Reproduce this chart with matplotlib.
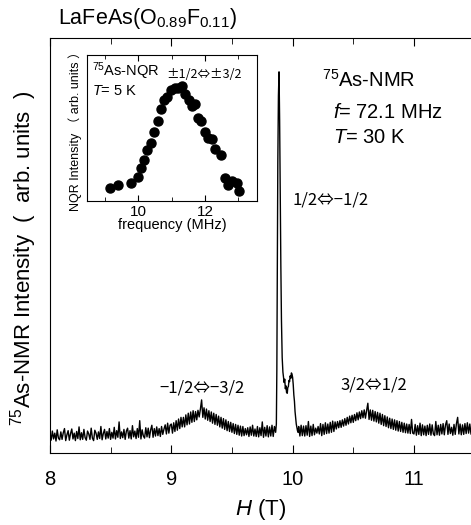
import numpy as np
import matplotlib
matplotlib.use("Agg")
import matplotlib.pyplot as plt
from matplotlib.ticker import MultipleLocator

plt.rcParams["font.family"] = ["Liberation Sans", "Noto Sans CJK JP", "DejaVu Sans"]
plt.rcParams["mathtext.fontset"] = "custom"
plt.rcParams["mathtext.rm"] = "Liberation Sans"
plt.rcParams["mathtext.it"] = "Liberation Sans:italic"

# ---- 75As-NMR field-swept spectrum (arb. units) ----
field_low = np.round(np.arange(8.00, 9.855, 0.01), 2)
nmr_low = [
    4.9, 3.1, 5.3, 3.4, 4.8, 2.9, 5.6, 3.6, 3.2, 5.1,
    3.3, 4.9, 5.9, 3.0, 4.4, 5.4, 3.1, 4.7, 5.8, 3.4,
    4.8, 3.0, 5.2, 3.5, 6.3, 3.2, 4.9, 3.3, 5.7, 3.7,
    3.1, 5.3, 4.6, 3.3, 6.0, 3.6, 3.0, 5.5, 4.8, 3.3,
    5.1, 3.5, 6.4, 3.2, 4.7, 5.7, 3.4, 5.2, 3.6, 5.9,
    3.3, 5.0, 3.6, 6.2, 3.4, 5.4, 3.8, 7.5, 3.5, 5.1,
    3.7, 5.7, 3.3, 5.3, 6.0, 3.6, 5.4, 3.4, 6.6, 3.9,
    5.3, 3.5, 5.9, 3.8, 7.8, 3.4, 5.6, 4.1, 3.6, 6.1,
    3.9, 6.0, 3.7, 5.6, 6.7, 3.8, 5.9, 4.1, 6.3, 4.2,
    5.9, 4.0, 6.4, 4.5, 5.8, 6.8, 4.6, 7.2, 4.8, 6.7,
    7.0, 4.8, 7.3, 5.2, 7.8, 5.5, 8.2, 5.9, 8.6, 6.3,
    8.6, 6.3, 9.2, 6.8, 9.6, 7.0, 9.9, 7.4, 10.2, 7.6,
    10.0, 8.0, 10.3, 8.7, 10.6, 12.8, 8.6, 10.9, 8.2, 10.6,
    7.9, 10.2, 7.6, 9.9, 7.2, 9.6, 6.9, 9.3, 6.7, 8.9,
    6.3, 8.6, 6.0, 8.3, 5.7, 8.0, 5.4, 7.6, 5.2, 7.4,
    5.0, 7.1, 4.7, 6.9, 4.5, 6.7, 4.3, 6.5, 4.1, 6.4,
    4.2, 5.9, 4.4, 6.1, 4.0, 6.3, 4.3, 6.7, 4.1, 5.8,
    4.0, 6.4, 3.9, 6.1, 4.2, 7.5, 3.8, 6.2, 4.1, 6.6,
    3.9, 6.3, 4.1, 6.7, 4.0, 6.4,
]

field_mid = [9.860, 9.866, 9.870, 9.874, 9.878, 9.883, 9.888, 9.893, 9.898,
             9.903, 9.908, 9.914, 9.920, 9.924, 9.930, 9.935, 9.940, 9.945,
             9.950, 9.956, 9.960, 9.965, 9.970, 9.975, 9.980, 9.985, 9.990,
             9.995, 10.000, 10.005, 10.010, 10.015, 10.020, 10.025, 10.030,
             10.035, 10.040, 10.045]
nmr_mid = [5.0, 7.0, 20.0, 45.0, 70.0, 86.0, 91.8, 80.0, 62.0,
           45.0, 32.0, 23.0, 19.5, 18.4, 17.0, 17.8, 15.5, 16.2,
           14.6, 14.4, 15.8, 16.0, 17.5, 17.2, 18.6, 18.0, 19.3,
           19.0, 18.2, 16.5, 14.0, 12.5, 10.0, 8.5, 7.0,
           6.2, 5.4, 5.0]

field_high = np.round(np.arange(10.05, 11.475, 0.01), 2)
nmr_high = [
    6.4, 4.1, 6.7, 4.2, 6.5,
    4.1, 6.6, 4.3, 7.6, 4.0, 6.5, 4.2, 6.9, 4.4, 6.0,
    4.8, 6.4, 4.6, 7.1, 4.2, 6.9, 4.5, 7.3, 4.7, 7.0,
    4.8, 7.4, 5.0, 7.7, 5.2, 7.5, 5.8, 7.6, 6.1, 7.8,
    6.2, 8.0, 6.5, 8.3, 6.7, 8.6, 7.0, 8.9, 7.3, 9.1,
    7.4, 9.3, 7.8, 9.7, 8.0, 9.9, 8.3, 10.2, 8.5, 10.4,
    8.4, 10.3, 12.0, 8.1, 10.4, 7.9, 10.3, 7.7, 10.0, 7.5,
    9.8, 7.2, 9.6, 6.9, 9.3, 6.6, 9.0, 6.4, 8.7, 6.1,
    8.4, 5.9, 8.2, 5.7, 8.0, 5.5, 7.8, 5.3, 7.6, 5.2,
    7.4, 5.0, 7.2, 4.9, 7.0, 4.8, 6.9, 4.7, 8.1, 4.8,
    4.6, 6.9, 4.3, 6.6, 4.5, 7.2, 4.2, 6.8, 4.4, 6.5,
    4.2, 6.7, 4.5, 7.0, 4.3, 6.8, 4.6, 4.2, 7.6, 4.4,
    6.7, 4.3, 6.9, 4.6, 7.1, 4.4, 6.8, 7.8, 4.5, 7.0,
    4.7, 6.2, 4.3, 6.9, 4.5, 7.1, 8.6, 4.6, 7.0, 4.4,
    6.8, 4.5, 7.1, 4.7, 7.3, 4.8, 7.0, 4.6,
]

# ---- 75As-NQR spectrum at 5 K (inset) ----
nqr_freq = [9.15, 9.38, 9.78, 9.98, 10.07, 10.18, 10.27, 10.37, 10.47, 10.60,
            10.67, 10.78, 10.87, 10.99, 11.09, 11.19, 11.31, 11.40, 11.52, 11.60,
            11.71, 11.78, 11.88, 12.00, 12.10, 12.20, 12.29, 12.49, 12.59, 12.70,
            12.82, 12.95, 13.02]
nqr_int = [0.088, 0.108, 0.126, 0.168, 0.230, 0.281, 0.350, 0.398, 0.471, 0.547,
           0.630, 0.694, 0.713, 0.759, 0.775, 0.777, 0.786, 0.736, 0.690, 0.650,
           0.667, 0.570, 0.552, 0.476, 0.432, 0.425, 0.356, 0.317, 0.161, 0.108,
           0.138, 0.126, 0.069]

field = np.concatenate([field_low, field_mid, field_high])
nmr = np.concatenate([nmr_low, nmr_mid, nmr_high])

cjk = ["Noto Sans CJK JP", "DejaVu Sans"]

fig = plt.figure(figsize=(4.71, 5.25), dpi=100)
ax = fig.add_axes([0.106, 0.137, 0.894, 0.791])
ax.plot(field, nmr, color="black", linewidth=1.0)
ax.set_xlim(8.0, 11.47)
ax.set_ylim(0, 100)
ax.spines["right"].set_visible(False)
ax.xaxis.set_major_locator(MultipleLocator(1))
ax.xaxis.set_minor_locator(MultipleLocator(0.5))
ax.tick_params(axis="x", which="both", direction="in", top=True,
               labelsize=14.5, pad=12)
ax.tick_params(axis="x", which="major", length=6)
ax.tick_params(axis="x", which="minor", length=4)
ax.set_yticks([])
ax.set_xlabel("$H$ (T)", fontsize=16, labelpad=6)
ax.set_ylabel("$^{75}$As-NMR Intensity  (  arb. units  )", fontsize=16)
ax.yaxis.set_label_coords(-0.026, 0.47)

fig.text(0.123, 0.965, "LaFeAs(O$_{0.89}$F$_{0.11}$)", fontsize=15.5, va="center")

ax.text(0.646, 0.899, "$^{75}$As-NMR", transform=ax.transAxes, fontsize=14.5,
        va="center")
ax.text(0.672, 0.819, "$f$= 72.1 MHz", transform=ax.transAxes, fontsize=14.5,
        va="center")
ax.text(0.672, 0.759, "$T$= 30 K", transform=ax.transAxes, fontsize=14.5,
        va="center")

ax.text(0.575, 0.61, "1/2\u21d4\u22121/2", transform=ax.transAxes,
        fontsize=12, family=cjk, va="center")
ax.text(0.36, 0.157, "\u22121/2\u21d4\u22123/2", transform=ax.transAxes,
        fontsize=12, family=cjk, ha="center", va="center")
ax.text(0.77, 0.164, "3/2\u21d41/2", transform=ax.transAxes,
        fontsize=12, family=cjk, ha="center", va="center")

# inset: NQR spectrum
axi = fig.add_axes([0.185, 0.617, 0.361, 0.278])
axi.plot(nqr_freq, nqr_int, "o", color="black", markersize=6.5)
axi.set_xlim(8.47, 13.56)
axi.set_ylim(0, 1)
axi.set_yticks([])
axi.xaxis.set_major_locator(MultipleLocator(2))
axi.xaxis.set_minor_locator(MultipleLocator(1))
axi.tick_params(axis="x", which="both", direction="in", top=True,
                labelsize=11, pad=3)
axi.tick_params(axis="x", which="major", length=4)
axi.tick_params(axis="x", which="minor", length=3)
axi.set_xlabel("frequency (MHz)", fontsize=10.5, labelpad=-1)
axi.set_ylabel("NQR Intensity \uff08 arb. units \uff09", fontsize=9, labelpad=4)
axi.text(0.03, 0.86, "$^{75}$As-NQR", transform=axi.transAxes, fontsize=10.5)
axi.text(0.03, 0.73, "$T$= 5 K", transform=axi.transAxes, fontsize=10.5)
axi.text(0.465, 0.84, "\u00b11/2\u21d4\u00b13/2", transform=axi.transAxes,
         fontsize=9, family=cjk)

fig.savefig("out.png", dpi=100)
